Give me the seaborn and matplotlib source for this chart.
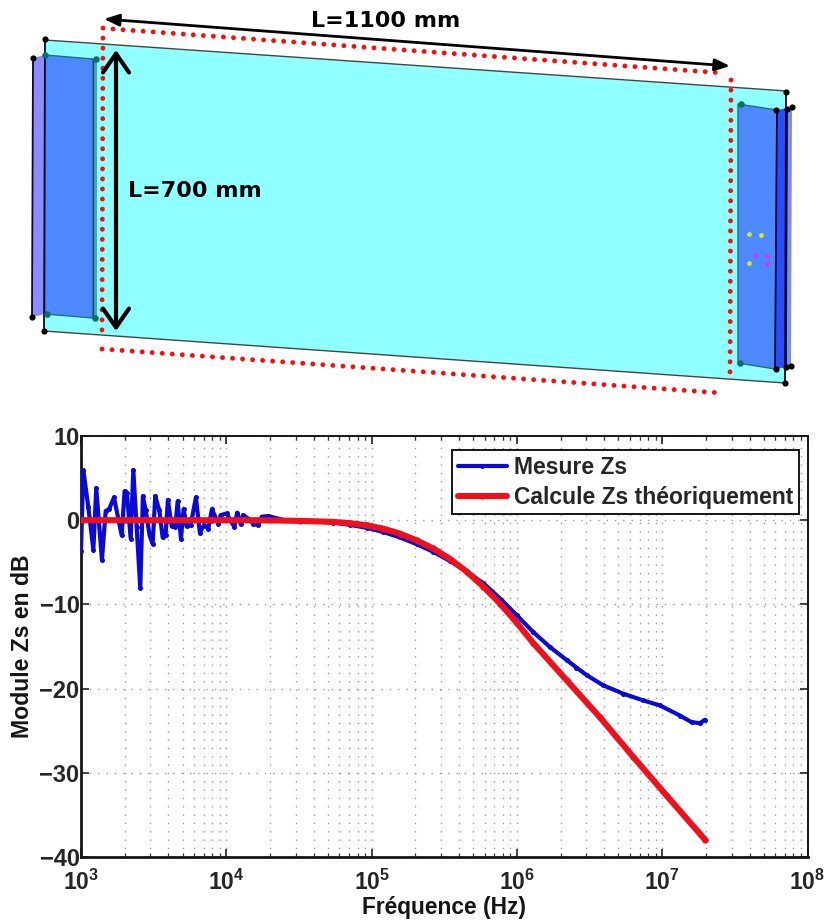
import numpy as np
import pandas as pd
import matplotlib
matplotlib.use("Agg")
import matplotlib.pyplot as plt
import seaborn as sns
from matplotlib.patches import Polygon, FancyArrowPatch

# ---------- data: measured curves (log10 of frequency, dB) ----------
mes_logf = [3.000,3.016,3.050,3.085,3.105,3.144,3.170,3.193,3.227,3.280,3.300,3.316,3.342,3.360,3.383,3.408,
            3.426,3.445,3.472,3.493,3.511,3.539,3.562,3.582,3.598,3.624,3.649,3.665,3.688,3.706,3.727,3.754,
            3.791,3.818,3.846,3.876,3.901,3.945,3.961,4.002,4.055,4.075,4.098,4.116,4.151,4.185,4.220,4.243,4.288,
            4.400,4.507,4.620,4.734,4.850,4.966,5.080,5.196,5.310,5.424,5.540,5.654,5.770,5.884,6.000,6.113,6.230,
            6.342,6.410,6.480,6.593,6.731,6.869,6.984,7.122,7.203,7.260,7.294]
mes_db = [-3.6,5.95,1.6,-3.5,3.8,-4.7,1.1,1.3,2.7,-1.8,3.45,3.2,-2.2,5.95,-0.8,-8.1,
          2.85,1.2,-1.8,-2.8,2.85,1.2,-2.05,-1.8,2.4,-0.7,-0.8,2.25,-2.2,1.3,-0.7,-0.6,
          2.7,-1.5,-0.6,-1.0,1.3,-0.4,0.6,0.8,-0.8,0.9,-0.4,0.6,0.2,-0.4,-0.6,0.4,0.5,
          0.0,-0.1,-0.15,-0.28,-0.55,-0.9,-1.4,-2.05,-2.85,-3.75,-4.85,-6.1,-7.5,-9.3,-11.3,-13.3,-15.1,
          -16.6,-17.5,-18.4,-19.6,-20.6,-21.4,-22.0,-23.2,-24.0,-24.1,-23.7]
calc_logf = [3.0,3.3,3.6,3.9,4.2,4.507,4.734,4.85,4.966,5.08,5.196,5.31,5.424,5.54,5.654,5.77,5.884,6.0,6.113,
             6.342,6.571,6.80,7.03,7.298]
calc_db = [0.0,0.0,0.0,0.0,0.0,-0.08,-0.2,-0.35,-0.6,-1.0,-1.6,-2.4,-3.35,-4.6,-6.1,-7.9,-9.9,-12.2,-14.6,
           -19.0,-23.4,-28.1,-32.7,-38.0]
series_names = ["Mesure Zs", "Calcule Zs théoriquement"]
y_ticks = [10, 0, -10, -20, -30, -40]
x_exps = [3, 4, 5, 6, 7, 8]

# ---------- diagram geometry (picture pixels) ----------
plate = [(45,40),(787,91),(785,383),(44,331)]
left_back = [(33,58),(45,55),(45,314),(32,317)]
left_face = [(45,55),(93,59),(93,318),(45,314)]
left_strip = [(93,59),(97,59),(97,318),(93,318)]
right_face = [(738,104),(777,110),(775,369),(738,363)]
right_dark = [(777,110),(788,108),(787,367),(775,369)]
right_light = [(788,108),(792,107),(791,366),(787,367)]
black_nodes = [(33,58),(32,317),(45,39),(44,331),(786,92),(792,107),(776,110),(776,369),(791,366),(785,383),(787,109),(786,367)]
teal_nodes = [(45,55),(96,59),(47,314),(95,318),(741,104),(740,363)]
yellow_pts = [(749,234),(761,235),(749,263)]
magenta_pts = [(755,255),(767,256),(767,264)]
red_sides = [[(103,28),(102,336)],[(113,29),(723,73)],[(731,80),(730,381)],[(102,349),(722,393)]]

sns.set_theme(style="white")
plt.rcParams["font.family"] = ["Liberation Sans", "DejaVu Sans"]
plt.rcParams["mathtext.fontset"] = "custom"
plt.rcParams["mathtext.bf"] = "Liberation Sans:bold"
plt.rcParams["mathtext.rm"] = "Liberation Sans:bold"

W, H = 824, 921
fig = plt.figure(figsize=(W/100, H/100), dpi=100, facecolor="white")

# ---------- top diagram ----------
top = fig.add_axes([0, 1-410/H, 1, 410/H])
top.set_xlim(0, W); top.set_ylim(410, 0); top.axis("off")
top.add_patch(Polygon(plate, fc="#8FFFFF", ec="none", zorder=1))
for a, b in [(plate[0], plate[1]), (plate[3], plate[2])]:
    top.plot([a[0], b[0]], [a[1], b[1]], color="#444444", lw=1.0, zorder=2)
top.add_patch(Polygon(left_back, fc="#8C8CFF", ec="none", zorder=2))
top.add_patch(Polygon(left_face, fc="#4D88FF", ec="#1F6F80", lw=1, zorder=3))
top.add_patch(Polygon(left_strip, fc="#45A5C8", ec="none", zorder=3))
top.add_patch(Polygon(right_face, fc="#4D88FF", ec="#1F6F80", lw=1, zorder=3))
top.add_patch(Polygon(right_dark, fc="#2A4CFF", ec="none", zorder=3))
top.add_patch(Polygon(right_light, fc="#7C8CE8", ec="none", zorder=3))
for xs, ys in [((33,32),(58,317)),((45,44),(39,331)),((786,785),(92,383)),((777,775),(110,369)),((787,786),(109,367))]:
    top.plot(xs, ys, color="#0A0A2A", lw=1.3, zorder=4)
top.plot([93,93],[59,318], color="#174A70", lw=0.9, zorder=4)
sns.scatterplot(x=[p[0] for p in teal_nodes], y=[p[1] for p in teal_nodes], ax=top, color="#0E6E6E", s=22, marker="o", linewidth=0, zorder=5)
sns.scatterplot(x=[p[0] for p in black_nodes], y=[p[1] for p in black_nodes], ax=top, color="black", s=20, marker="o", linewidth=0, zorder=5)
sns.scatterplot(x=[p[0] for p in yellow_pts], y=[p[1] for p in yellow_pts], ax=top, color="#C8F020", s=12, linewidth=0, zorder=5)
sns.scatterplot(x=[p[0] for p in magenta_pts], y=[p[1] for p in magenta_pts], ax=top, color="#C040F0", s=12, linewidth=0, zorder=5)
for side in red_sides:
    top.plot([side[0][0], side[1][0]], [side[0][1], side[1][1]], color="#FF0A0A", lw=3.5,
             linestyle=(0, (0.01, 2.06)), dash_capstyle="round", zorder=6)
top.add_patch(FancyArrowPatch((730,66),(104,19), arrowstyle="<|-|>,head_length=9,head_width=3.6",
                              color="black", lw=2.0, shrinkA=0, shrinkB=0, zorder=7, mutation_scale=1))
top.add_patch(FancyArrowPatch((116,50),(116,331), arrowstyle="<->,head_length=5.2,head_width=3.6",
                              color="black", lw=3, shrinkA=0, shrinkB=0, zorder=7, mutation_scale=2.6))
top.text(386, 21, "L=1100 mm", family="DejaVu Sans", weight="bold", fontsize=16, ha="center", va="center", color="black", zorder=8)
top.text(195, 191, "L=700 mm", family="DejaVu Sans", weight="bold", fontsize=16, ha="center", va="center", color="black", zorder=8)

# ---------- bottom chart ----------
L, R, T, B = 81, 807.5, 436, 857
ax = fig.add_axes([L/W, 1-B/H, (R-L)/W, (B-T)/H])
mes = pd.DataFrame({"f": 10.0**np.array(mes_logf), "db": mes_db})
calc = pd.DataFrame({"f": 10.0**np.array(calc_logf), "db": calc_db})
sns.lineplot(data=mes, x="f", y="db", ax=ax, color="#0A0AD8", lw=3.0, marker="o", ms=3.6, mew=0,
             sort=False, estimator=None, label=series_names[0], zorder=4)
sns.lineplot(data=calc, x="f", y="db", ax=ax, color="#F0101C", lw=4.4, marker="o", ms=4.5, mew=0,
             sort=False, estimator=None, label=series_names[1], zorder=5)
ax.set_xscale("log")
ax.set_xlim(1e3, 1e8); ax.set_ylim(-40, 10)
ax.set_xticks([10.0**e for e in x_exps])
ax.set_xticklabels([rf"$\mathbf{{10^{{{e}}}}}$" for e in x_exps], fontsize=16.5)
ax.set_yticks(y_ticks)
ax.set_yticklabels([str(v).replace("-", "\u2212") for v in y_ticks], fontsize=17, fontweight="bold")
ax.xaxis.set_minor_locator(matplotlib.ticker.LogLocator(base=10, subs=np.arange(2, 10), numticks=12))
ax.xaxis.set_minor_formatter(matplotlib.ticker.NullFormatter())
ax.tick_params(axis="both", which="major", direction="in", length=6, width=1.2, color="#222222", top=True, right=True, bottom=True, left=True)
ax.tick_params(axis="x", which="major", pad=9)
ax.tick_params(axis="y", which="major", pad=1)
ax.tick_params(axis="x", which="minor", direction="in", length=3, width=0.9, color="#333333", top=True, bottom=True)
ax.grid(True, which="major", axis="both", color="#999999", lw=1.0, linestyle=(0, (1, 5)))
ax.grid(True, which="minor", axis="x", color="#999999", lw=1.0, linestyle=(0, (1, 5)))
ax.set_axisbelow(True)
for side, lw in [("left", 2), ("bottom", 2), ("top", 1.4), ("right", 1.4)]:
    ax.spines[side].set_visible(True)
    ax.spines[side].set_linewidth(lw)
    ax.spines[side].set_color("#151515")
ax.set_xlabel("Fréquence (Hz)", fontsize=16.4, fontweight="bold", color="#151515")
ax.xaxis.set_label_coords(0.5, -(907-B)/(B-T), transform=ax.transAxes)
ax.xaxis.label.set_va("center")
ax.set_ylabel("Module Zs en dB", fontsize=16.6, fontweight="bold", color="#151515")
ax.yaxis.set_label_coords((23-L)/(R-L), 0.5, transform=ax.transAxes)
ax.yaxis.label.set_va("center")
leg = ax.legend(loc="upper right", bbox_to_anchor=((799-L)/(R-L), (B-450)/(B-T)), borderaxespad=0,
                frameon=True, fancybox=False, framealpha=1, edgecolor="#151515", facecolor="white",
                prop={"family": "Liberation Sans", "weight": "bold", "size": 16.5},
                handlelength=2.14, handletextpad=0.3, borderpad=0.25, labelspacing=0.3)
leg.get_frame().set_linewidth(1.4)
leg.set_zorder(10)

fig.savefig("out.png", dpi=100, facecolor="white")
